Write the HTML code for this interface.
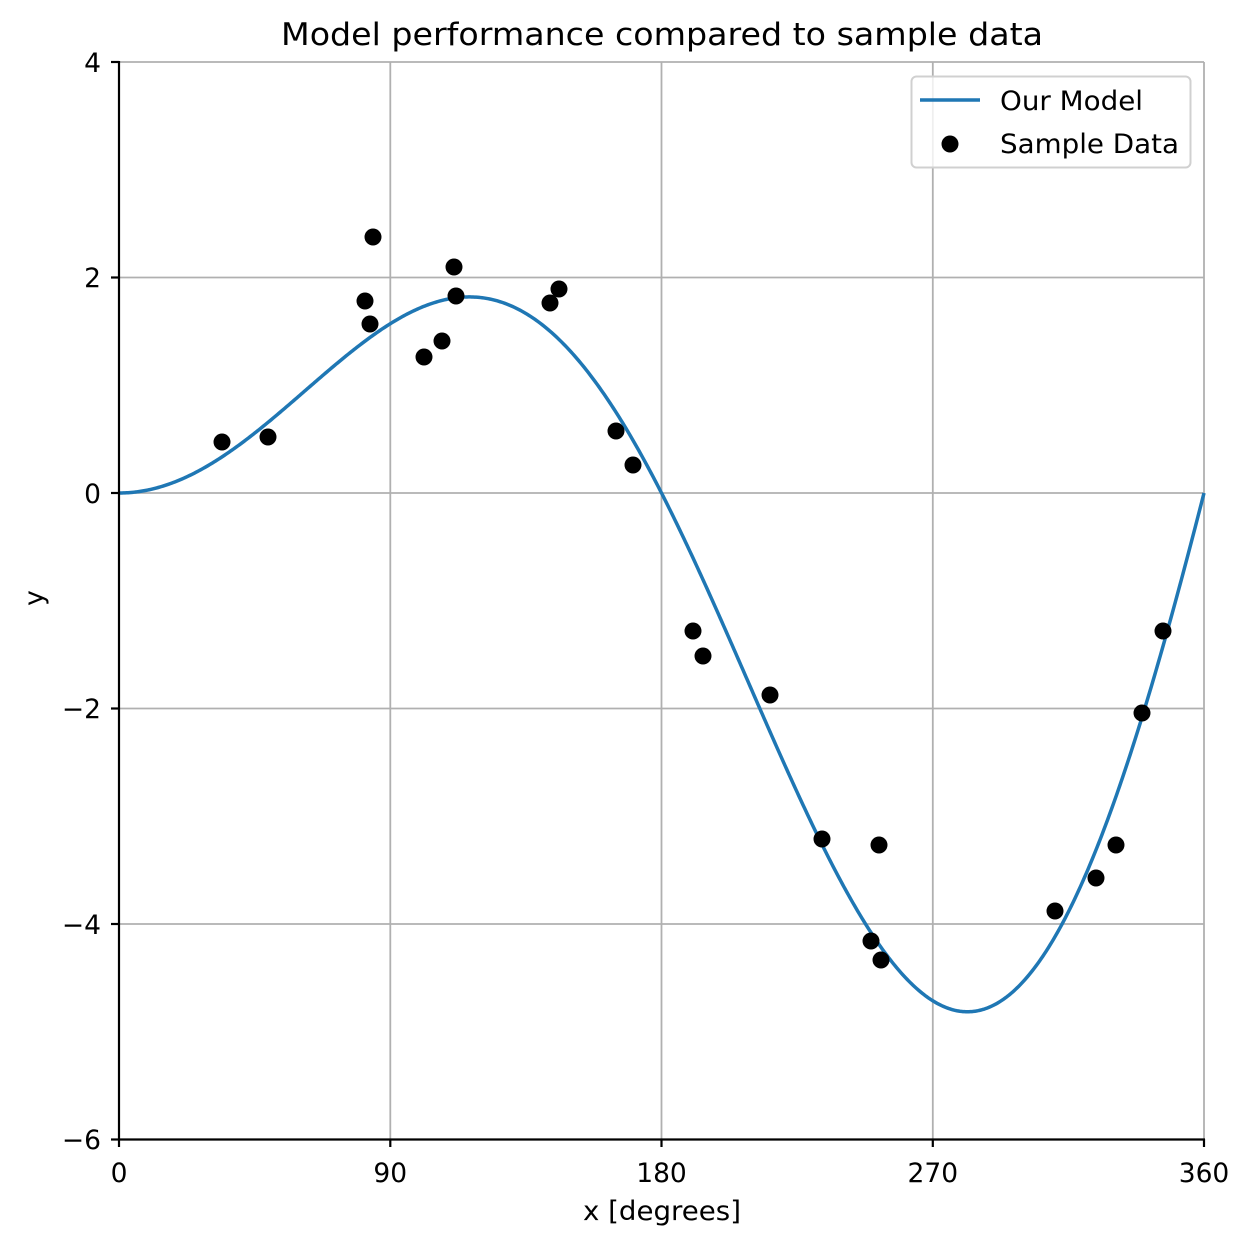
<!DOCTYPE html>
<html><head><meta charset="utf-8"><style>
html,body{margin:0;padding:0;background:#fff}
svg{display:block;font-family:"DejaVu Sans","Liberation Sans",sans-serif}
</style></head><body>
<svg id="s" width="1250" height="1247" viewBox="0 0 1250 1247" xmlns="http://www.w3.org/2000/svg">
<rect width="1250" height="1247" fill="#fff"/>
<g stroke="#b0b0b0" stroke-width="1.8">
<line x1="119" y1="62" x2="119" y2="1139"/>
<line x1="390.3" y1="62" x2="390.3" y2="1139"/>
<line x1="661.5" y1="62" x2="661.5" y2="1139"/>
<line x1="932.8" y1="62" x2="932.8" y2="1139"/>
<line x1="1204" y1="62" x2="1204" y2="1139"/>
<line x1="119" y1="62" x2="1204" y2="62"/>
<line x1="119" y1="277.5" x2="1204" y2="277.5"/>
<line x1="119" y1="493" x2="1204" y2="493"/>
<line x1="119" y1="708.5" x2="1204" y2="708.5"/>
<line x1="119" y1="924" x2="1204" y2="924"/>
</g>
<path id="curve" d="" fill="none" stroke="#1f77b4" stroke-width="3.5"/>
<g fill="#000">
<circle cx="222" cy="442" r="8.5"/><circle cx="268" cy="437" r="8.5"/><circle cx="365" cy="301" r="8.5"/>
<circle cx="370" cy="324" r="8.5"/><circle cx="373" cy="237" r="8.5"/><circle cx="424" cy="357" r="8.5"/>
<circle cx="442" cy="341" r="8.5"/><circle cx="454" cy="267" r="8.5"/><circle cx="456" cy="296" r="8.5"/>
<circle cx="550" cy="303" r="8.5"/><circle cx="559" cy="289" r="8.5"/><circle cx="616" cy="431" r="8.5"/>
<circle cx="633" cy="465" r="8.5"/><circle cx="693" cy="631" r="8.5"/><circle cx="703" cy="656" r="8.5"/>
<circle cx="770" cy="695" r="8.5"/><circle cx="822" cy="839" r="8.5"/><circle cx="879" cy="845" r="8.5"/>
<circle cx="871" cy="941" r="8.5"/><circle cx="881" cy="960" r="8.5"/><circle cx="1055" cy="911" r="8.5"/>
<circle cx="1096" cy="878" r="8.5"/><circle cx="1116" cy="845" r="8.5"/><circle cx="1142" cy="713" r="8.5"/>
<circle cx="1163" cy="631" r="8.5"/>
</g>
<g stroke="#000" stroke-width="2.2">
<line x1="119" y1="61" x2="119" y2="1140"/>
<line x1="118" y1="1139.5" x2="1205" y2="1139.5"/>
<line x1="111" y1="62" x2="119" y2="62"/>
<line x1="111" y1="277.5" x2="119" y2="277.5"/>
<line x1="111" y1="493" x2="119" y2="493"/>
<line x1="111" y1="708.5" x2="119" y2="708.5"/>
<line x1="111" y1="924" x2="119" y2="924"/>
<line x1="111" y1="1139.5" x2="119" y2="1139.5"/>
<line x1="119" y1="1139" x2="119" y2="1147"/>
<line x1="390.3" y1="1139" x2="390.3" y2="1147"/>
<line x1="661.5" y1="1139" x2="661.5" y2="1147"/>
<line x1="932.8" y1="1139" x2="932.8" y2="1147"/>
<line x1="1204" y1="1139" x2="1204" y2="1147"/>
</g>
<g font-size="26.5" fill="#000" text-anchor="end">
<text x="101" y="72">4</text>
<text x="101" y="287">2</text>
<text x="101" y="503">0</text>
<text x="101" y="718">−2</text>
<text x="101" y="934">−4</text>
<text x="101" y="1149">−6</text>
</g>
<g font-size="26.5" fill="#000" text-anchor="middle">
<text x="119" y="1182">0</text>
<text x="390.3" y="1182">90</text>
<text x="661.5" y="1182">180</text>
<text x="932.8" y="1182">270</text>
<text x="1204" y="1182">360</text>
<text x="0" y="0" transform="translate(43,598) rotate(-90)">y</text>
</g>
<text x="583" y="1220" font-size="27" textLength="158" lengthAdjust="spacingAndGlyphs">x [degrees]</text>
<text x="281" y="45" font-size="31" textLength="762" lengthAdjust="spacingAndGlyphs">Model performance compared to sample data</text>
<rect x="911.5" y="76.5" width="279" height="91" rx="5" fill="#fff" fill-opacity="0.8" stroke="#d0d0d0" stroke-width="2"/>
<line x1="920" y1="100" x2="980" y2="100" stroke="#1f77b4" stroke-width="3.5"/>
<circle cx="950" cy="144" r="8.5" fill="#000"/>
<text x="1000" y="110" font-size="27" textLength="143" lengthAdjust="spacingAndGlyphs">Our Model</text>
<text x="1000" y="153" font-size="27" textLength="179" lengthAdjust="spacingAndGlyphs">Sample Data</text>
</svg>
<script>
var d="";for(var i=0;i<=720;i++){var deg=i/2,r=deg*Math.PI/180,y=r*Math.sin(r);
var px=119+deg*1085/360,py=493-107.75*y;d+=(i?"L":"M")+px.toFixed(2)+","+py.toFixed(2);}
document.getElementById("curve").setAttribute("d",d);
</script>
</body></html>
